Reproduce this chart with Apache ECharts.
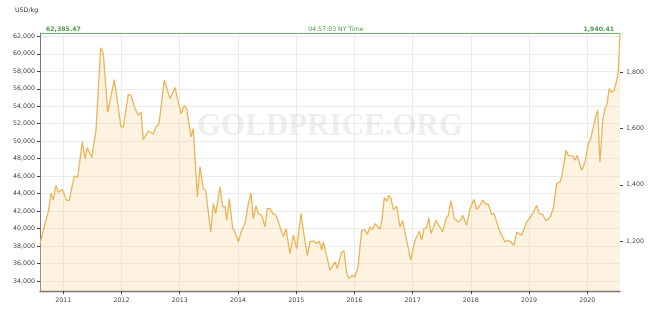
<!DOCTYPE html>
<html>
<head>
<meta charset="utf-8">
<script src="https://cdn.jsdelivr.net/npm/echarts@6/dist/echarts.min.js"></script>
<style>html,body{margin:0;padding:0;background:#fff;}#c{width:655px;height:311px;}</style>
</head>
<body>
<div id="c"></div>
<script>
// Decimal years and gold price in USD/kg
const years = [
2010.600,2010.657,2010.742,2010.789,2010.828,2010.869,2010.914,2010.983,2011.058,2011.098,
2011.189,2011.247,2011.326,2011.373,2011.412,2011.488,2011.562,2011.642,2011.687,2011.763,
2011.876,2011.991,2012.031,2012.116,2012.163,2012.232,2012.261,2012.288,2012.335,2012.374,
2012.460,2012.546,2012.592,2012.644,2012.735,2012.759,2012.833,2012.919,2013.022,2013.078,
2013.120,2013.193,2013.233,2013.262,2013.302,2013.348,2013.405,2013.446,2013.532,2013.577,
2013.618,2013.692,2013.738,2013.777,2013.807,2013.851,2013.910,2013.949,2014.006,2014.064,
2014.121,2014.178,2014.224,2014.263,2014.310,2014.349,2014.408,2014.464,2014.504,2014.550,
2014.597,2014.653,2014.722,2014.779,2014.825,2014.894,2014.951,2015.009,2015.083,2015.122,
2015.191,2015.237,2015.294,2015.352,2015.397,2015.438,2015.466,2015.581,2015.667,2015.706,
2015.782,2015.821,2015.868,2015.907,2015.964,2016.004,2016.061,2016.125,2016.182,2016.222,
2016.268,2016.314,2016.354,2016.440,2016.469,2016.514,2016.555,2016.595,2016.629,2016.668,
2016.727,2016.783,2016.830,2016.857,2016.967,2017.041,2017.115,2017.156,2017.196,2017.242,
2017.276,2017.316,2017.402,2017.517,2017.573,2017.613,2017.659,2017.716,2017.785,2017.826,
2017.860,2017.929,2017.986,2018.054,2018.101,2018.145,2018.204,2018.243,2018.300,2018.358,
2018.398,2018.489,2018.587,2018.643,2018.702,2018.741,2018.788,2018.874,2018.959,2019.045,
2019.131,2019.176,2019.234,2019.291,2019.360,2019.416,2019.475,2019.531,2019.561,2019.635,
2019.674,2019.760,2019.789,2019.828,2019.904,2019.961,2020.018,2020.059,2020.093,2020.150,
2020.179,2020.218,2020.265,2020.304,2020.333,2020.378,2020.419,2020.459,2020.505,2020.532,
2020.562
];
const priceKg = [
38280,39800,41900,44070,43240,44950,44190,44460,43240,43160,
46020,45900,49900,48010,49270,48120,51250,60700,60020,53340,
57050,51630,51630,55360,55250,53730,53530,52960,53340,50180,
51170,50790,51630,52010,56970,57160,54870,56130,53150,54110,
53730,50480,51440,51250,43620,47050,44580,44380,39610,42860,
41710,44760,42470,42550,40950,43430,40000,39610,38470,39810,
40570,42860,44070,41140,42590,41710,41520,40190,42290,42290,
41710,41520,40190,39050,40000,37140,39240,37710,41710,39810,
36940,38470,38580,38280,38550,37520,38470,35230,36180,35420,
37330,37450,34850,34270,34650,34460,35600,39810,39810,39350,
40190,39880,40570,39920,40760,43550,43160,43810,43430,42170,
42550,40190,40880,40760,36380,38670,39700,38670,40000,40110,
41260,39420,40950,39610,41140,41520,43160,41140,40760,40950,
41520,40380,42290,43320,42170,42550,43240,42860,42780,41600,
41710,39810,38470,38660,38350,38090,39610,39240,40760,41520,
42670,41710,41630,40880,41260,42290,45150,45330,45900,48950,
48380,48270,47810,48380,46670,47620,49720,50300,50300,52960,
53530,47620,52390,53730,54110,56020,55630,55750,56970,57920,
62385.47
];
const yearTicks = [2011,2012,2013,2014,2015,2016,2017,2018,2019,2020];
const kgTicks = [34000,36000,38000,40000,42000,44000,46000,48000,50000,52000,54000,56000,58000,60000,62000];
const ozTicks = [1200,1400,1600,1800];
const currentKg = 62385.47;
const currentOz = 1940.41;
const timeText = '04:57:03 NY Time';
const unitText = 'USD/kg';

const OZ_PER_KG = 32.1507;
const yMinKg = 32850;
const fmt = v => v.toLocaleString('en-US', {maximumFractionDigits: 2, minimumFractionDigits: 0});
const fmt2 = v => v.toLocaleString('en-US', {minimumFractionDigits: 2, maximumFractionDigits: 2});
const FONT = 'DejaVu Sans';

const chart = echarts.init(document.getElementById('c'), null, {renderer: 'canvas'});
chart.setOption({
  animation: false,
  backgroundColor: '#ffffff',
  grid: {left: 40, right: 35, top: 33, bottom: 20, containLabel: false},
  graphic: [
    {type: 'text', left: 15, top: 7, z: 10,
     style: {text: unitText, fill: '#333', font: '6.3px "' + FONT + '"'}},
    {type: 'text', left: 197, top: 111, z: 1, silent: true,
     style: {text: 'GOLDPRICE.ORG', fill: 'rgba(200,200,200,0.3)', font: 'bold 31px "Liberation Serif"'}}
  ],
  xAxis: {
    type: 'value', min: 2010.5998, max: 2020.562,
    axisLine: {show: true, lineStyle: {color: '#777', width: 1.3}},
    axisTick: {show: true, length: 3, customValues: yearTicks, lineStyle: {color: '#444'}},
    axisLabel: {customValues: yearTicks, formatter: v => String(Math.round(v)), fontFamily: FONT, fontSize: 6.3, color: '#444', margin: 6},
    splitLine: {show: true, lineStyle: {color: '#ebebeb', width: 1}}
  },
  yAxis: [
    {
      type: 'value', min: yMinKg, max: currentKg, position: 'left',
      axisLine: {show: true, lineStyle: {color: '#777', width: 1}},
      axisTick: {show: true, length: 3, customValues: kgTicks, lineStyle: {color: '#444'}},
      axisLabel: {customValues: kgTicks, formatter: v => fmt(v), fontFamily: FONT, fontSize: 6.3, color: '#444', margin: 5},
      splitLine: {show: true, lineStyle: {color: '#ebebeb', width: 1}}
    },
    {
      type: 'value', min: yMinKg / OZ_PER_KG, max: currentOz, position: 'right',
      axisLine: {show: false},
      axisTick: {show: true, length: 3, customValues: ozTicks, lineStyle: {color: '#444'}},
      axisLabel: {customValues: ozTicks, formatter: v => fmt(v), fontFamily: FONT, fontSize: 6.3, color: '#444', margin: 6},
      splitLine: {show: false}
    }
  ],
  series: [{
    type: 'line',
    data: years.map((y, i) => [y, priceKg[i]]),
    showSymbol: false,
    symbol: 'none',
    lineStyle: {color: '#ebb458', width: 1.3},
    areaStyle: {color: 'rgba(249,212,145,0.4)'},
    z: 3,
    markLine: {
      silent: true, symbol: ['none', 'none'], z: 5,
      lineStyle: {color: '#6cb86c', width: 1.2, type: 'solid'},
      label: {fontFamily: FONT, fontSize: 6.2, fontWeight: 'bold', color: '#4a9e4a', distance: 1},
      data: [
        {yAxis: currentKg, label: {position: 'insideStartTop', formatter: fmt2(currentKg), distance: [6, 1]}},
        {yAxis: currentKg, label: {position: 'insideMiddleTop', formatter: timeText, fontWeight: 'normal', distance: [0, 1], offset: [6, 0]}},
        {yAxis: currentKg, label: {position: 'insideEndTop', formatter: fmt2(currentOz), distance: [6, 1]}}
      ]
    }
  }]
});
</script>
</body>
</html>
